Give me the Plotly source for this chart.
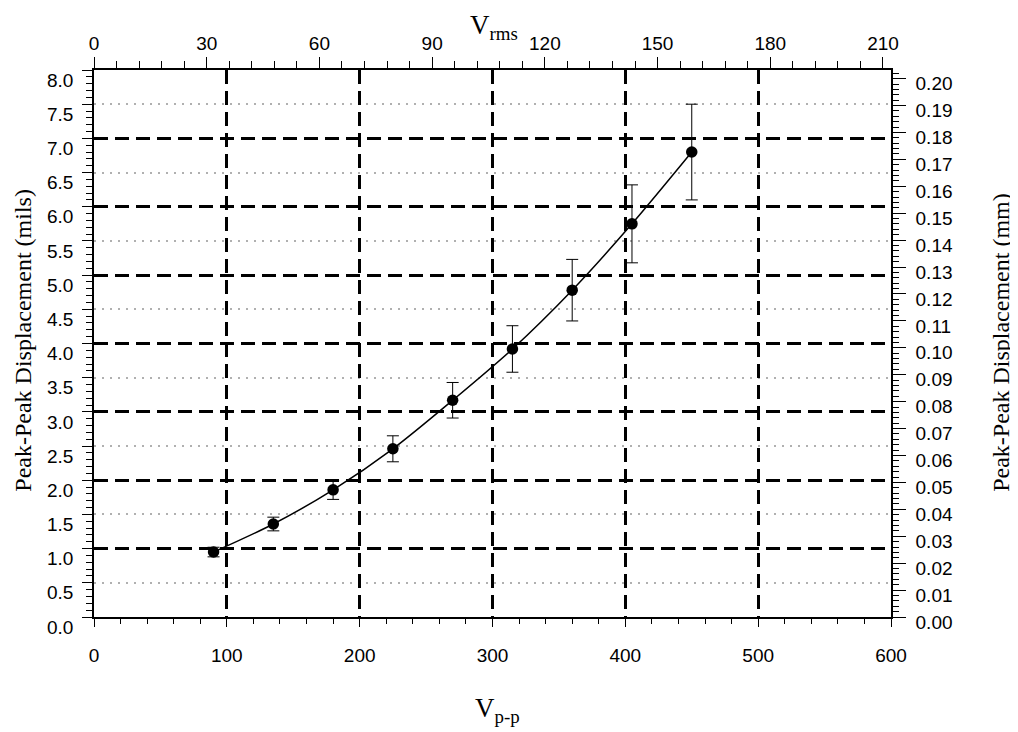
import math
import plotly.graph_objects as go

# ---- data ----
v_pp = [90, 135, 180, 225, 270, 315, 360, 405, 450]            # Vp-p
disp_mils = [0.95, 1.36, 1.86, 2.46, 3.17, 3.92, 4.78, 5.75, 6.80]
err_mils = [0.07, 0.10, 0.14, 0.19, 0.26, 0.34, 0.45, 0.57, 0.70]

x_range = [0, 600]
y_range = [0, 8]
vrms_ticks = [0, 30, 60, 90, 120, 150, 180, 210]

# axis conversions
VRMS_PER_VPP = 1 / (2 * math.sqrt(2))
MM_PER_MIL = 0.0254
v_rms = [v * VRMS_PER_VPP for v in v_pp]
disp_mm = [d * MM_PER_MIL for d in disp_mils]

SANS = "Liberation Sans, Arial, sans-serif"
SERIF = "Liberation Serif, Times New Roman, serif"
TICKFONT = dict(family=SANS, size=19, color="black")

fig = go.Figure()
# grid helper axis (y3) and secondary scales (x2, y2) carry the same data, invisibly
ghost = dict(mode="markers", marker=dict(opacity=0, size=1), hoverinfo="skip", showlegend=False)
fig.add_trace(go.Scatter(x=v_pp, y=disp_mils, xaxis="x", yaxis="y3", **ghost))
fig.add_trace(go.Scatter(x=v_rms, y=disp_mils, xaxis="x2", yaxis="y", **ghost))
fig.add_trace(go.Scatter(x=v_pp, y=disp_mm, xaxis="x", yaxis="y2", **ghost))

fig.add_trace(go.Scatter(
    x=v_pp, y=disp_mils,
    mode="lines+markers",
    line=dict(color="black", width=1.5, shape="spline", smoothing=0.8),
    marker=dict(color="black", size=11.5),
    error_y=dict(type="data", array=err_mils, thickness=1, width=6, color="black"),
    showlegend=False, xaxis="x", yaxis="y",
))

fig.update_layout(
    template="none",
    # page body has an 8px margin, so the figure is sized/margined to land the
    # plot area at the same place as the reference in the 1018x732 window
    width=1010, height=724,
    margin=dict(l=86, r=127, t=62, b=115, autoexpand=False),
    paper_bgcolor="white", plot_bgcolor="white",
    showlegend=False,
    xaxis=dict(
        range=x_range, dtick=100, tick0=0, automargin=False,
        showline=True, linecolor="black", linewidth=1.5,
        ticks="outside", ticklen=8, tickwidth=1, tickcolor="black",
        tickfont=TICKFONT, ticklabelstandoff=12,
        showgrid=True, gridcolor="black", gridwidth=3, griddash="14px,7px",
        zeroline=False,
        minor=dict(dtick=20, ticks="outside", ticklen=5, tickcolor="black", showgrid=False),
    ),
    xaxis2=dict(
        range=[x_range[0] * VRMS_PER_VPP, x_range[1] * VRMS_PER_VPP],
        overlaying="x", side="top", anchor="y", automargin=False,
        tickvals=vrms_ticks,
        showline=True, linecolor="black", linewidth=1.5,
        ticks="outside", ticklen=11, tickwidth=1, tickcolor="black",
        tickfont=TICKFONT, ticklabelstandoff=0,
        showgrid=False, zeroline=False,
        minor=dict(dtick=6, ticks="outside", ticklen=7, tickcolor="black", showgrid=False),
    ),
    yaxis=dict(
        range=y_range, dtick=0.5, tick0=0, tickformat=".1f", automargin=False,
        showline=True, linecolor="black", linewidth=1.5,
        ticks="outside", ticklen=10, tickwidth=1, tickcolor="black",
        tickfont=TICKFONT, ticklabelshift=10, ticklabelstandoff=5,
        showgrid=False, zeroline=False,
        minor=dict(dtick=0.1, ticks="outside", ticklen=6, tickcolor="black", showgrid=False),
    ),
    yaxis2=dict(
        range=[y_range[0] * MM_PER_MIL, y_range[1] * MM_PER_MIL],
        overlaying="y", side="right", anchor="x", automargin=False,
        dtick=0.01, tick0=0, tickformat=".2f",
        showline=True, linecolor="black", linewidth=1.5,
        ticks="outside", ticklen=13, tickwidth=1, tickcolor="black",
        tickfont=TICKFONT, ticklabelshift=5, ticklabelstandoff=6,
        showgrid=False, zeroline=False,
        minor=dict(dtick=0.002, ticks="outside", ticklen=6, tickcolor="black", showgrid=False),
    ),
    yaxis3=dict(
        range=y_range, overlaying="y", anchor="x", side="left", automargin=False,
        dtick=1, tick0=0,
        showticklabels=False, ticks="", showline=False, zeroline=False,
        showgrid=True, gridcolor="black", gridwidth=3, griddash="14px,7px",
        minor=dict(dtick=0.5, showgrid=True, gridcolor="#b0b0b0", gridwidth=1.5,
                   griddash="2px,6px", ticks=""),
    ),
    annotations=[
        dict(text="V<sub>rms</sub>", xref="paper", yref="paper", x=0.502, y=1.0785,
             xanchor="center", yanchor="middle", showarrow=False,
             font=dict(family=SERIF, size=27, color="black")),
        dict(text="V<sub>p-p</sub>", xref="paper", yref="paper", x=0.506, y=-0.170,
             xanchor="center", yanchor="middle", showarrow=False,
             font=dict(family=SERIF, size=27, color="black")),
        dict(text="Peak-Peak Displacement (mils)", xref="paper", yref="paper",
             x=-0.0885, y=0.506, xanchor="center", yanchor="middle", textangle=-90,
             showarrow=False, font=dict(family=SERIF, size=24, color="black")),
        dict(text="Peak-Peak Displacement (mm)", xref="paper", yref="paper",
             x=1.138, y=0.503, xanchor="center", yanchor="middle", textangle=-90,
             showarrow=False, font=dict(family=SERIF, size=24, color="black")),
    ],
)

fig.write_html("out.html")
